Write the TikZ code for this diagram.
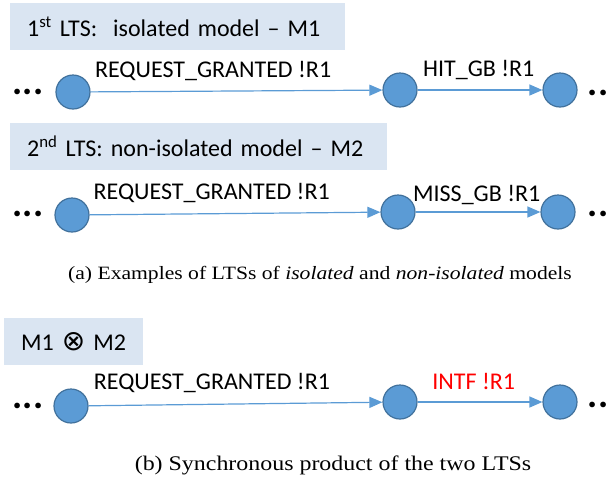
\documentclass[tikz,border=0pt]{standalone}
\usepackage{fontspec}
\setmainfont{Carlito}
\newfontfamily\capfont[FakeStretch=1.15]{Liberation Serif}
\newfontfamily\symfont{DejaVu Sans}
\usetikzlibrary{arrows.meta}
\definecolor{stateblue}{HTML}{5B9BD5}
\definecolor{stateline}{HTML}{41719C}
\definecolor{boxblue}{HTML}{DAE5F2}
\definecolor{intfred}{HTML}{FF0000}

\begin{document}
\begin{tikzpicture}
  [x=1pt,y=-1pt,font=\fontsize{24}{28}\selectfont,
   state/.style={circle,fill=stateblue,draw=stateline,line width=1.2pt,minimum size=34pt,inner sep=0pt},
   title/.style={fill=boxblue,anchor=west,align=left,minimum height=47pt,inner ysep=0pt},
   dots/.style={font=\fontsize{38}{40}\selectfont\bfseries,inner sep=0pt,yshift=-3pt,anchor=base},
   trans/.style={color=stateblue,line width=1.2pt,-{Triangle[length=13pt,width=11pt]}},
   lbl/.style={above=#1,inner sep=0pt,text depth=0pt,text=black},
   lbl/.default=13pt,
   caption/.style={font=\capfont\fontsize{#1}{22}\selectfont}]
  \useasboundingbox (0,0) rectangle (612,480);

  % first LTS
  \node[title,inner xsep=17pt,text width=301pt] (t1) at (10,26.5) {1\textsuperscript{st} LTS:~ isolated model -- M1};
  \node[dots] (l1) at (28,91) {...};
  \node[state] (a1) at (73,92) {};
  \node[state] (a2) at (400,90) {};
  \node[state] (a3) at (560,90) {};
  \node[dots] (r1) at (598,92) {..};

  \path[trans]
     (a1) edge node[lbl,pos=.42] {REQUEST\_GRANTED !R1} (a2)
     (a2) edge node[lbl,pos=.49] {HIT\_GB !R1} (a3);

  % second LTS
  \node[title,inner xsep=17pt,text width=343pt] (t2) at (10,146.5) {2\textsuperscript{nd} LTS: non-isolated model -- M2};
  \node[dots] (l2) at (28,213) {...};
  \node[state] (b1) at (72,215) {};
  \node[state] (b2) at (398,212) {};
  \node[state] (b3) at (558,212) {};
  \node[dots] (r2) at (598,213) {..};

  \path[trans]
     (b1) edge node[lbl=14pt,pos=.42] {REQUEST\_GRANTED !R1} (b2)
     (b2) edge node[lbl=10pt,pos=.49] {MISS\_GB !R1} (b3);

  \node[caption=18.8] (cap1) at (320,275) {(a) Examples of LTSs of \textit{isolated} and \textit{non-isolated} models};

  % product
  \node[title,inner xsep=17pt,text width=105pt] (t3) at (4,341.5) {M1 {\symfont\fontsize{28}{28}\selectfont ⊗} M2};
  \node[dots] (l3) at (28,405) {...};
  \node[state] (c1) at (71,406) {};
  \node[state] (c2) at (400,402) {};
  \node[state] (c3) at (560,402) {};
  \node[dots] (r3) at (598,404) {..};

  \path[trans]
     (c1) edge node[lbl=14pt,pos=.42] {REQUEST\_GRANTED !R1} (c2)
     (c2) edge node[lbl=12pt,pos=.45,text=intfred] {INTF !R1} (c3);

  \node[caption=20.8] (cap2) at (333,465) {(b) Synchronous product of the two LTSs};
\end{tikzpicture}
\end{document}
